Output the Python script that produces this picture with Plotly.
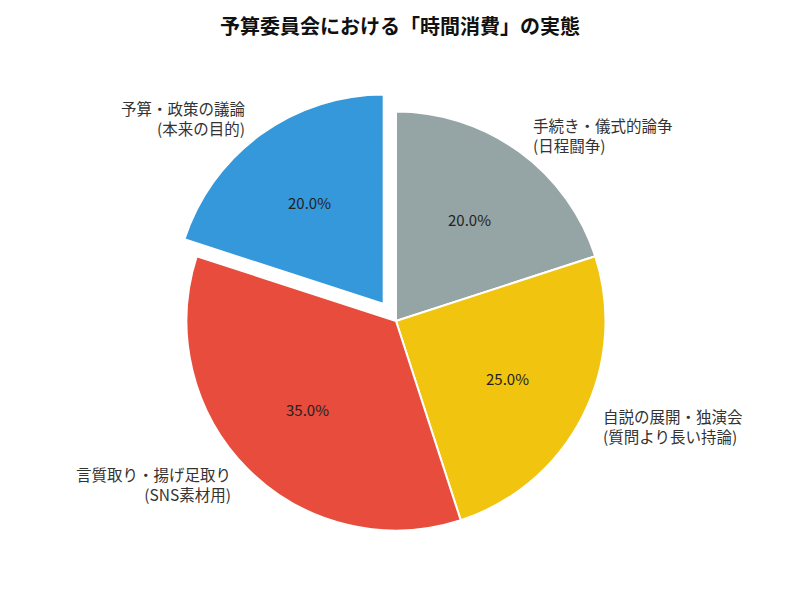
import math

import plotly.graph_objects as go

# data
labels = [
    "手続き・儀式的論争<br>(日程闘争)",
    "自説の展開・独演会<br>(質問より長い持論)",
    "言質取り・揚げ足取り<br>(SNS素材用)",
    "予算・政策の議論<br>(本来の目的)",
]
shares = [20, 25, 35, 20]
colors = ["#95a5a6", "#f1c40f", "#e74c3c", "#3498db"]
pulls = [0, 0, 0, 0.1]

title = "予算委員会における「時間消費」の実態"
font_family = "Noto Sans CJK JP, Noto Sans, sans-serif"

W, H = 800, 600
# pie placement in pixels (centre and radius after the pull shrink)
cx, cy, radius = 396, 321, 209.5
outer = radius * (1 + max(pulls))
dom_x = [(cx - outer) / W, (cx + outer) / W]
dom_y = [(H - cy - outer) / H, (H - cy + outer) / H]

fig = go.Figure()
fig.add_trace(
    go.Pie(
        labels=labels,
        values=shares,
        sort=False,
        direction="clockwise",
        rotation=0,
        pull=pulls,
        marker=dict(colors=colors, line=dict(color="white", width=2)),
        textinfo="none",
        hoverinfo="label+percent",
        showlegend=False,
        domain=dict(x=dom_x, y=dom_y),
    )
)

# matplotlib-like labels: names at 1.1 r, percentages at 0.6 r
total = sum(shares)
start = 0.0
annotations = []
for lab, val, pull in zip(labels, shares, pulls):
    mid = (start + val / 2) / total * 2 * math.pi
    start += val
    sx, sy = math.sin(mid), -math.cos(mid)
    ox = cx + sx * pull * radius
    oy = cy + sy * pull * radius
    lx, ly = ox + sx * 1.1 * radius, oy + sy * 1.1 * radius
    px, py = ox + sx * 0.6 * radius, oy + sy * 0.6 * radius
    right_side = sx >= 0
    annotations.append(
        dict(
            x=lx / W, y=1 - ly / H, xref="paper", yref="paper",
            text=lab, showarrow=False,
            xanchor="left" if right_side else "right",
            yanchor="middle",
            align="left" if right_side else "right",
            font=dict(family=font_family, size=15.5, color="#333333"),
        )
    )
    annotations.append(
        dict(
            x=px / W, y=1 - py / H, xref="paper", yref="paper",
            text=f"{val / total * 100:.1f}%", showarrow=False,
            xanchor="center", yanchor="middle",
            font=dict(family=font_family, size=15, color="#222222"),
        )
    )

fig.update_layout(
    width=W,
    height=H,
    margin=dict(l=0, r=0, t=0, b=0),
    paper_bgcolor="white",
    plot_bgcolor="white",
    title=dict(
        text=f"<b>{title}</b>",
        x=0.5, xanchor="center",
        y=1 - 27 / H, yanchor="middle",
        font=dict(family=font_family, size=20, color="#111111"),
    ),
    annotations=annotations,
)

# drop the default body margin so the 800x600 figure sits at the page origin
fig.write_html(
    "out.html",
    config={"displayModeBar": False},
    post_script="document.body.style.margin='0';",
)
